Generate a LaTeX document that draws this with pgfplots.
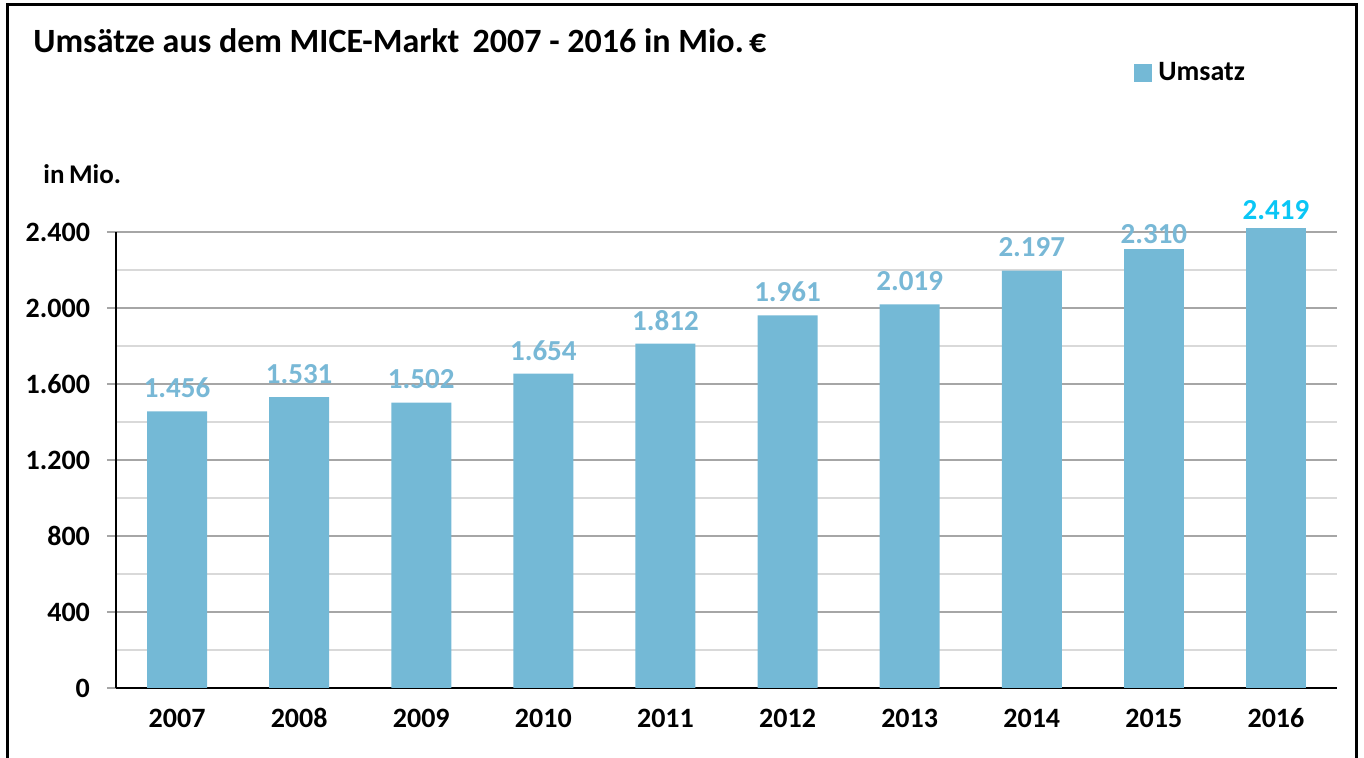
\documentclass[border=0pt]{standalone}
\usepackage{pgfplots}
\pgfplotsset{compat=1.18}
\usepackage{fontspec}
\setmainfont{Carlito}
\definecolor{barblue}{HTML}{74B9D6}
\definecolor{lblblue}{HTML}{78B8D6}
\definecolor{lblcyan}{HTML}{0AC6F5}
\definecolor{majgrid}{HTML}{A6A6A6}
\definecolor{mingrid}{HTML}{D9D9D9}
\begin{document}
\begin{tikzpicture}
\useasboundingbox (0,0) rectangle (682pt,379pt);
\draw[line width=1.5pt] (3.5pt,-20pt) -- (3.5pt,376.5pt) -- (678pt,376.5pt) -- (678pt,-20pt);
\node[anchor=base west, inner sep=0, font=\fontsize{17}{20}\selectfont\bfseries] at (16.5pt,352.5pt) {Umsätze aus dem MICE-Markt\, 2007 - 2016 in Mio.\hspace{-2.5pt} €};
\node[anchor=base west, inner sep=0, font=\fontsize{13.5}{16}\selectfont\bfseries] at (21.5pt,287pt) {in\,Mio.};
\begin{axis}[
  at={(58pt,35pt)}, anchor=south west,
  width=610.5pt, height=228pt, scale only axis,
  xmin=-0.5, xmax=9.5, ymin=0, ymax=2400,
  clip=false,
  ybar, bar width=30pt, bar shift=0pt,
  axis x line*=bottom, axis y line*=left,
  axis line style={black, line width=1pt},
  xtick={0,...,9},
  xticklabels={2007,2008,2009,2010,2011,2012,2013,2014,2015,2016},
  x tick style={draw=none},
  ytick={0,400,...,2400},
  minor ytick={200,600,...,2200},
  tick align=outside,
  major tick length=4.5pt, minor tick length=0pt,
  y tick style={majgrid, line width=1pt},
  ymajorgrids, yminorgrids,
  major grid style={majgrid, line width=1pt},
  minor grid style={mingrid, line width=1pt},
  /pgf/number format/assume math mode=true,
  /pgf/number format/1000 sep={.},
  ticklabel style={font=\fontsize{14}{16}\selectfont\bfseries, black},
  xticklabel style={anchor=base, yshift=-15.5pt},
  yticklabel style={xshift=-5pt},
  nodes near coords,
  every node near coord/.append style={font=\fontsize{14.5}{16}\selectfont\bfseries, yshift=3.2pt},
  legend style={draw=none, fill=none, at={(rel axis cs:0.8337,1.349)}, anchor=west, inner sep=0pt,
    font=\fontsize{14}{16}\selectfont\bfseries, nodes={inner sep=1.5pt}},
  legend image code/.code={\fill[#1] (0pt,-4.5pt) rectangle (9pt,4.5pt);},
]
\addplot[fill=barblue, draw=none, nodes near coords style={lblblue}] coordinates {
(0,1456) (1,1531) (2,1502) (3,1654) (4,1812) (5,1961) (6,2019) (7,2197)};
\addlegendentry{\hspace{1.5pt}Umsatz}
\addplot[fill=barblue, draw=none, forget plot, nodes near coords style={lblblue}, every node near coord/.append style={yshift=-4pt}] coordinates {(8,2310)};
\addplot[fill=barblue, draw=none, forget plot, nodes near coords style={lblcyan}, every node near coord/.append style={yshift=-2.5pt}] coordinates {(9,2419)};
\end{axis}
\end{tikzpicture}
\end{document}
